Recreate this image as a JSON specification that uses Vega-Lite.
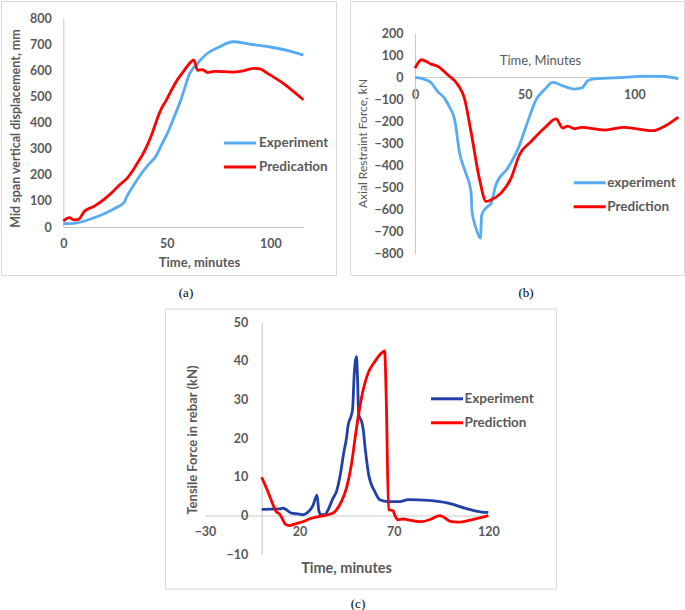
{
  "$schema": "https://vega.github.io/schema/vega-lite/v6.json",
  "padding": 0,
  "background": "white",
  "bounds": "full",
  "spacing": 6.5,
  "config": {
    "view": {"stroke": "#D9D9D9", "strokeWidth": 1},
    "font": "Lato",
    "axis": {
      "grid": false,
      "ticks": false,
      "domainColor": "#C8C8C8",
      "domainWidth": 1,
      "labelFont": "Lato",
      "labelFontWeight": "bold",
      "labelFontSize": 12.5,
      "labelColor": "#595959",
      "labelFlush": false,
      "labelOverlap": false,
      "titleFont": "Lato",
      "titleColor": "#595959",
      "titleAlign": "center",
      "titleBaseline": "middle"
    },
    "legend": {
      "orient": "none",
      "title": null,
      "symbolType": "stroke",
      "symbolSize": 1024,
      "symbolStrokeWidth": 3,
      "labelFont": "Lato",
      "labelFontWeight": "bold",
      "labelFontSize": 13.5,
      "labelColor": "#595959",
      "padding": 0
    },
    "title": {
      "orient": "bottom",
      "anchor": "middle",
      "font": "Liberation Serif",
      "fontSize": 13,
      "fontWeight": "normal",
      "color": "#000000",
      "baseline": "middle",
      "offset": 12
    }
  },
  "datasets": {
    "a": [
      {"t": 0, "v": 13, "s": "Experiment"},
      {"t": 5, "v": 14, "s": "Experiment"},
      {"t": 10, "v": 22, "s": "Experiment"},
      {"t": 15, "v": 36, "s": "Experiment"},
      {"t": 20, "v": 52, "s": "Experiment"},
      {"t": 25, "v": 72, "s": "Experiment"},
      {"t": 29.5, "v": 95, "s": "Experiment"},
      {"t": 30.3, "v": 110, "s": "Experiment"},
      {"t": 34, "v": 160, "s": "Experiment"},
      {"t": 37.5, "v": 202, "s": "Experiment"},
      {"t": 41, "v": 238, "s": "Experiment"},
      {"t": 44.8, "v": 272, "s": "Experiment"},
      {"t": 47.5, "v": 315, "s": "Experiment"},
      {"t": 50.4, "v": 360, "s": "Experiment"},
      {"t": 53.5, "v": 420, "s": "Experiment"},
      {"t": 56.9, "v": 489, "s": "Experiment"},
      {"t": 59, "v": 540, "s": "Experiment"},
      {"t": 60.9, "v": 585, "s": "Experiment"},
      {"t": 63, "v": 610, "s": "Experiment"},
      {"t": 65, "v": 628, "s": "Experiment"},
      {"t": 69.7, "v": 665, "s": "Experiment"},
      {"t": 75, "v": 688, "s": "Experiment"},
      {"t": 82, "v": 709, "s": "Experiment"},
      {"t": 90, "v": 700, "s": "Experiment"},
      {"t": 100, "v": 689, "s": "Experiment"},
      {"t": 110, "v": 672, "s": "Experiment"},
      {"t": 116, "v": 658, "s": "Experiment"},
      {"t": 0, "v": 23, "s": "Predication"},
      {"t": 2.9, "v": 36, "s": "Predication"},
      {"t": 5.3, "v": 27, "s": "Predication"},
      {"t": 7.3, "v": 29, "s": "Predication"},
      {"t": 10.1, "v": 59, "s": "Predication"},
      {"t": 15, "v": 80, "s": "Predication"},
      {"t": 20, "v": 108, "s": "Predication"},
      {"t": 23.9, "v": 135, "s": "Predication"},
      {"t": 27, "v": 160, "s": "Predication"},
      {"t": 31.1, "v": 189, "s": "Predication"},
      {"t": 33.5, "v": 215, "s": "Predication"},
      {"t": 35.9, "v": 246, "s": "Predication"},
      {"t": 38.5, "v": 280, "s": "Predication"},
      {"t": 40.8, "v": 317, "s": "Predication"},
      {"t": 43, "v": 360, "s": "Predication"},
      {"t": 45.6, "v": 419, "s": "Predication"},
      {"t": 47.5, "v": 455, "s": "Predication"},
      {"t": 49.6, "v": 483, "s": "Predication"},
      {"t": 52, "v": 520, "s": "Predication"},
      {"t": 55.3, "v": 566, "s": "Predication"},
      {"t": 58, "v": 595, "s": "Predication"},
      {"t": 61.7, "v": 632, "s": "Predication"},
      {"t": 63, "v": 640, "s": "Predication"},
      {"t": 64.9, "v": 600, "s": "Predication"},
      {"t": 67.3, "v": 602, "s": "Predication"},
      {"t": 69.7, "v": 591, "s": "Predication"},
      {"t": 73, "v": 596, "s": "Predication"},
      {"t": 81.8, "v": 593, "s": "Predication"},
      {"t": 87, "v": 598, "s": "Predication"},
      {"t": 92.3, "v": 607, "s": "Predication"},
      {"t": 95, "v": 605, "s": "Predication"},
      {"t": 98.7, "v": 588, "s": "Predication"},
      {"t": 102, "v": 572, "s": "Predication"},
      {"t": 106.8, "v": 547, "s": "Predication"},
      {"t": 111, "v": 520, "s": "Predication"},
      {"t": 116, "v": 487, "s": "Predication"}
    ],
    "b": [
      {"t": 0, "v": 0, "s": "experiment"},
      {"t": 4, "v": -8, "s": "experiment"},
      {"t": 7.3, "v": -23, "s": "experiment"},
      {"t": 10.3, "v": -64, "s": "experiment"},
      {"t": 13.4, "v": -94, "s": "experiment"},
      {"t": 16, "v": -140, "s": "experiment"},
      {"t": 17.9, "v": -185, "s": "experiment"},
      {"t": 18.7, "v": -230, "s": "experiment"},
      {"t": 20.2, "v": -336, "s": "experiment"},
      {"t": 23, "v": -430, "s": "experiment"},
      {"t": 25.5, "v": -517, "s": "experiment"},
      {"t": 26, "v": -608, "s": "experiment"},
      {"t": 27.8, "v": -684, "s": "experiment"},
      {"t": 29.8, "v": -729, "s": "experiment"},
      {"t": 30.4, "v": -623, "s": "experiment"},
      {"t": 33.1, "v": -586, "s": "experiment"},
      {"t": 34.7, "v": -570, "s": "experiment"},
      {"t": 36.9, "v": -487, "s": "experiment"},
      {"t": 42.3, "v": -411, "s": "experiment"},
      {"t": 46.8, "v": -328, "s": "experiment"},
      {"t": 51.4, "v": -200, "s": "experiment"},
      {"t": 55.2, "v": -101, "s": "experiment"},
      {"t": 59, "v": -56, "s": "experiment"},
      {"t": 62.8, "v": -23, "s": "experiment"},
      {"t": 68.1, "v": -41, "s": "experiment"},
      {"t": 72.7, "v": -53, "s": "experiment"},
      {"t": 76.1, "v": -48, "s": "experiment"},
      {"t": 78.7, "v": -15, "s": "experiment"},
      {"t": 81.8, "v": -7, "s": "experiment"},
      {"t": 95.4, "v": 0, "s": "experiment"},
      {"t": 104.6, "v": 6, "s": "experiment"},
      {"t": 113.7, "v": 4, "s": "experiment"},
      {"t": 120, "v": -6, "s": "experiment"},
      {"t": 0, "v": 42, "s": "Prediction"},
      {"t": 3, "v": 80, "s": "Prediction"},
      {"t": 7.3, "v": 60, "s": "Prediction"},
      {"t": 10.3, "v": 50, "s": "Prediction"},
      {"t": 14.9, "v": 12, "s": "Prediction"},
      {"t": 19.5, "v": -33, "s": "Prediction"},
      {"t": 22.5, "v": -94, "s": "Prediction"},
      {"t": 25.5, "v": -245, "s": "Prediction"},
      {"t": 29.3, "v": -457, "s": "Prediction"},
      {"t": 32.4, "v": -563, "s": "Prediction"},
      {"t": 34.7, "v": -555, "s": "Prediction"},
      {"t": 39.2, "v": -525, "s": "Prediction"},
      {"t": 43.8, "v": -457, "s": "Prediction"},
      {"t": 47.6, "v": -351, "s": "Prediction"},
      {"t": 52.9, "v": -291, "s": "Prediction"},
      {"t": 59, "v": -230, "s": "Prediction"},
      {"t": 64.3, "v": -188, "s": "Prediction"},
      {"t": 67.3, "v": -230, "s": "Prediction"},
      {"t": 69.6, "v": -221, "s": "Prediction"},
      {"t": 72.7, "v": -233, "s": "Prediction"},
      {"t": 75.7, "v": -227, "s": "Prediction"},
      {"t": 86.3, "v": -239, "s": "Prediction"},
      {"t": 95.4, "v": -227, "s": "Prediction"},
      {"t": 102, "v": -235, "s": "Prediction"},
      {"t": 108.4, "v": -242, "s": "Prediction"},
      {"t": 113.7, "v": -222, "s": "Prediction"},
      {"t": 120, "v": -180, "s": "Prediction"}
    ],
    "c": [
      {"t": 0, "v": 1.6, "s": "Experiment"},
      {"t": 9.5, "v": 1.7, "s": "Experiment"},
      {"t": 11.3, "v": 1.9, "s": "Experiment"},
      {"t": 13.1, "v": 1.5, "s": "Experiment"},
      {"t": 15.7, "v": 0.6, "s": "Experiment"},
      {"t": 19.3, "v": 0.4, "s": "Experiment"},
      {"t": 21.9, "v": 0.2, "s": "Experiment"},
      {"t": 24.6, "v": 0.9, "s": "Experiment"},
      {"t": 27.2, "v": 2.6, "s": "Experiment"},
      {"t": 29.3, "v": 5.3, "s": "Experiment"},
      {"t": 30.2, "v": 1.5, "s": "Experiment"},
      {"t": 31.3, "v": 0.2, "s": "Experiment"},
      {"t": 33.4, "v": 0.2, "s": "Experiment"},
      {"t": 35.2, "v": 1.5, "s": "Experiment"},
      {"t": 37.8, "v": 4.5, "s": "Experiment"},
      {"t": 39.6, "v": 6.2, "s": "Experiment"},
      {"t": 41.3, "v": 9.7, "s": "Experiment"},
      {"t": 43.6, "v": 16.6, "s": "Experiment"},
      {"t": 44.9, "v": 20, "s": "Experiment"},
      {"t": 45.8, "v": 23.4, "s": "Experiment"},
      {"t": 47.5, "v": 26, "s": "Experiment"},
      {"t": 48.2, "v": 27.8, "s": "Experiment"},
      {"t": 48.9, "v": 35.5, "s": "Experiment"},
      {"t": 50.2, "v": 41.1, "s": "Experiment"},
      {"t": 50.7, "v": 36.4, "s": "Experiment"},
      {"t": 51.4, "v": 26, "s": "Experiment"},
      {"t": 52.8, "v": 24.5, "s": "Experiment"},
      {"t": 53.7, "v": 22.5, "s": "Experiment"},
      {"t": 54.9, "v": 17, "s": "Experiment"},
      {"t": 56.7, "v": 10.5, "s": "Experiment"},
      {"t": 59.9, "v": 6.2, "s": "Experiment"},
      {"t": 62.5, "v": 4.1, "s": "Experiment"},
      {"t": 67, "v": 3.6, "s": "Experiment"},
      {"t": 73.1, "v": 3.6, "s": "Experiment"},
      {"t": 77.6, "v": 4.1, "s": "Experiment"},
      {"t": 88.2, "v": 3.9, "s": "Experiment"},
      {"t": 98.8, "v": 3.2, "s": "Experiment"},
      {"t": 107.6, "v": 1.9, "s": "Experiment"},
      {"t": 116.4, "v": 0.9, "s": "Experiment"},
      {"t": 120, "v": 0.8, "s": "Experiment"},
      {"t": 0, "v": 9.9, "s": "Prediction"},
      {"t": 3.3, "v": 6.2, "s": "Prediction"},
      {"t": 6, "v": 2.8, "s": "Prediction"},
      {"t": 7.7, "v": 1.0, "s": "Prediction"},
      {"t": 9.5, "v": 0.4, "s": "Prediction"},
      {"t": 10.8, "v": -0.7, "s": "Prediction"},
      {"t": 12.5, "v": -2.2, "s": "Prediction"},
      {"t": 14.8, "v": -2.6, "s": "Prediction"},
      {"t": 17.5, "v": -2.2, "s": "Prediction"},
      {"t": 22.8, "v": -1.4, "s": "Prediction"},
      {"t": 26.3, "v": -0.7, "s": "Prediction"},
      {"t": 29.9, "v": -0.3, "s": "Prediction"},
      {"t": 35.2, "v": 0.2, "s": "Prediction"},
      {"t": 38.7, "v": 1.0, "s": "Prediction"},
      {"t": 42.2, "v": 3.6, "s": "Prediction"},
      {"t": 44.9, "v": 7.1, "s": "Prediction"},
      {"t": 47.5, "v": 13.1, "s": "Prediction"},
      {"t": 50.2, "v": 22.6, "s": "Prediction"},
      {"t": 52.8, "v": 30.3, "s": "Prediction"},
      {"t": 56.3, "v": 36.8, "s": "Prediction"},
      {"t": 59.9, "v": 39.8, "s": "Prediction"},
      {"t": 63.4, "v": 42, "s": "Prediction"},
      {"t": 65.1, "v": 42.6, "s": "Prediction"},
      {"t": 66, "v": 29.5, "s": "Prediction"},
      {"t": 67.2, "v": 1.5, "s": "Prediction"},
      {"t": 69.5, "v": 1.3, "s": "Prediction"},
      {"t": 70.4, "v": 0.2, "s": "Prediction"},
      {"t": 72.1, "v": -1.1, "s": "Prediction"},
      {"t": 74.8, "v": -0.9, "s": "Prediction"},
      {"t": 77.4, "v": -1.1, "s": "Prediction"},
      {"t": 84.5, "v": -1.6, "s": "Prediction"},
      {"t": 89.8, "v": -0.9, "s": "Prediction"},
      {"t": 94.2, "v": 0, "s": "Prediction"},
      {"t": 96, "v": -0.3, "s": "Prediction"},
      {"t": 100.4, "v": -1.6, "s": "Prediction"},
      {"t": 103.9, "v": -1.7, "s": "Prediction"},
      {"t": 111, "v": -1.1, "s": "Prediction"},
      {"t": 120, "v": 0, "s": "Prediction"}
    ]
  },
  "vconcat": [
    {
      "hconcat": [
        {
          "width": 335,
          "height": 274,
          "data": {"name": "a"},
          "title": {"text": "(a)", "dx": 17.5},
          "mark": {"type": "line", "interpolate": "monotone", "strokeWidth": 2.8},
          "encoding": {
            "x": {
              "field": "t", "type": "quantitative",
              "scale": {"domain": [0, 116], "range": [62.3, 302.4], "nice": false, "zero": false},
              "axis": {"orient": "bottom", "offset": -48, "values": [0, 50, 100], "labelPadding": 10,
                "title": "Time, minutes", "titleFontSize": 13, "titleFontWeight": "bold", "titleX": 198, "titleY": 35}
            },
            "y": {
              "field": "v", "type": "quantitative",
              "scale": {"domain": [0, 800], "range": [226, 17], "nice": false, "zero": false},
              "axis": {"orient": "left", "offset": -62.3, "values": [0, 100, 200, 300, 400, 500, 600, 700, 800], "labelPadding": 12,
                "title": "Mid span vertical displacement, mm", "titleFontSize": 12.5, "titleFontWeight": "bold", "titleAngle": -90, "titleX": -48, "titleY": 127}
            },
            "color": {
              "field": "s", "type": "nominal",
              "scale": {"domain": ["Experiment", "Predication"], "range": ["#56ACF2", "#FF0000"]},
              "legend": {"legendX": 221.5, "legendY": 124.5, "labelOffset": 1.5, "rowPadding": 0}
            }
          }
        },
        {
          "width": 334,
          "height": 274,
          "data": {"name": "b"},
          "title": {"text": "(b)", "dx": 9},
          "mark": {"type": "line", "interpolate": "monotone", "strokeWidth": 2.8},
          "encoding": {
            "x": {
              "field": "t", "type": "quantitative",
              "scale": {"domain": [0, 120], "range": [65, 328.3], "nice": false, "zero": false},
              "axis": {"orient": "bottom", "offset": -198, "values": [0, 50, 100], "labelPadding": 11,
                "title": "Time, Minutes", "titleFontSize": 13, "titleFontWeight": "normal", "titleX": 190, "titleY": -17}
            },
            "y": {
              "field": "v", "type": "quantitative",
              "scale": {"domain": [-800, 200], "range": [252.7, 32.3], "nice": false, "zero": false},
              "axis": {"orient": "left", "offset": -65, "values": [-800, -700, -600, -500, -400, -300, -200, -100, 0, 100, 200], "labelPadding": 12,
                "title": "Axial Restraint Force, kN", "titleFontSize": 12, "titleFontWeight": "normal", "titleAngle": -90, "titleX": -53, "titleY": 142}
            },
            "color": {
              "field": "s", "type": "nominal",
              "scale": {"domain": ["experiment", "Prediction"], "range": ["#56ACF2", "#FF0000"]},
              "legend": {"legendX": 222.2, "legendY": 164.2, "labelOffset": 0, "rowPadding": -1.7}
            }
          }
        }
      ],
      "spacing": 14,
      "bounds": "flush",
      "resolve": {"scale": {"color": "independent", "x": "independent", "y": "independent"}}
    },
    {
      "hconcat": [
        {
          "width": 150,
          "height": 280,
          "view": {"stroke": null},
          "data": {"values": []},
          "mark": "point"
        },
        {
          "width": 391,
          "height": 280,
          "data": {"name": "c"},
          "title": {"text": "(c)", "dx": -2.5, "offset": 9},
          "mark": {"type": "line", "interpolate": "monotone", "strokeWidth": 2.8},
          "encoding": {
            "x": {
              "field": "t", "type": "quantitative",
              "scale": {"domain": [-30, 120], "range": [40, 323.3], "nice": false, "zero": false},
              "axis": {"orient": "bottom", "offset": -73, "values": [-30, 20, 70, 120], "labelPadding": 10,
                "title": "Time, minutes", "titleFontSize": 14.5, "titleFontWeight": "bold", "titleX": 181, "titleY": 52.7}
            },
            "y": {
              "field": "v", "type": "quantitative",
              "scale": {"domain": [-10, 50], "range": [245.7, 13.7], "nice": false, "zero": false},
              "axis": {"orient": "left", "offset": -96.7, "values": [-10, 0, 10, 20, 30, 40, 50], "labelPadding": 14,
                "title": "Tensile Force in rebar (kN)", "titleFontSize": 13, "titleFontWeight": "bold", "titleAngle": -90, "titleX": -69, "titleY": 131}
            },
            "color": {
              "field": "s", "type": "nominal",
              "scale": {"domain": ["Experiment", "Prediction"], "range": ["#2241A8", "#FF0000"]},
              "legend": {"legendX": 264.5, "legendY": 72.8, "labelOffset": 0, "rowPadding": -6.3}
            }
          }
        }
      ],
      "spacing": 14,
      "bounds": "flush",
      "resolve": {"scale": {"color": "independent", "x": "independent", "y": "independent"}}
    }
  ],
  "resolve": {"scale": {"color": "independent", "x": "independent", "y": "independent"}}
}
